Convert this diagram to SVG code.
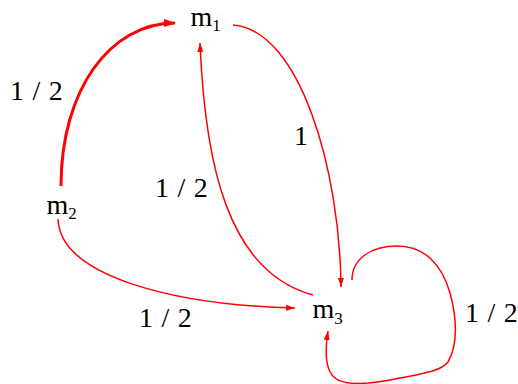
<svg xmlns="http://www.w3.org/2000/svg" width="518" height="384" viewBox="0 0 518 384">
<style>
.sub{font-size:17px}
.e{fill:none;stroke:#ff0000;stroke-width:1.5}
.thick{stroke-width:3}
</style>
<defs>
<marker id="ah" markerUnits="userSpaceOnUse" markerWidth="10" markerHeight="7" refX="9" refY="3" orient="auto">
<path d="M0,0 L9,3 L0,6 z" fill="#ff0000"/>
</marker>
<marker id="ahT" markerUnits="userSpaceOnUse" markerWidth="14" markerHeight="9" refX="11" refY="4" orient="auto">
<path d="M0,0 L12,4 L0,8 z" fill="#ff0000"/>
</marker>
</defs>
<rect width="518" height="384" fill="#fff"/>
<g id="connectors">
<path class="e thick" d="M61,186 C61,90 110,23 175,23" marker-end="url(#ahT)"/>
<path class="e" d="M233,25 C300,30 340,170 341,287" marker-end="url(#ah)"/>
<path class="e" d="M313,295 C228,272 205,165 200,43" marker-end="url(#ah)"/>
<path class="e" d="M58,219 C60,275 170,305 295,308" marker-end="url(#ah)"/>
<path class="e" d="M352,280 C352,258 372,246 397,246 C425,246 442,265 450,293 C457,318 458,345 448,362 C440,372 420,374 400,378 C372,384 345,386 335,378 C325,370 325,350 328,331" marker-end="url(#ah)"/>
</g>
<g font-family="Liberation Serif" font-size="28" fill="#000" word-spacing="1.5">
<g id="labels">
<text x="10" y="100">1 / 2</text>
<text x="294" y="145">1</text>
<text x="155" y="197">1 / 2</text>
<text x="139" y="327">1 / 2</text>
<text x="465" y="322">1 / 2</text>
</g>
<g id="m1"><text x="190.5" y="26">m<tspan class="sub" dy="5">1</tspan></text></g>
<g id="m2"><text x="46.5" y="214">m<tspan class="sub" dy="5">2</tspan></text></g>
<g id="m3"><text x="312.5" y="318">m<tspan class="sub" dy="6">3</tspan></text></g>
</g>
</svg>
